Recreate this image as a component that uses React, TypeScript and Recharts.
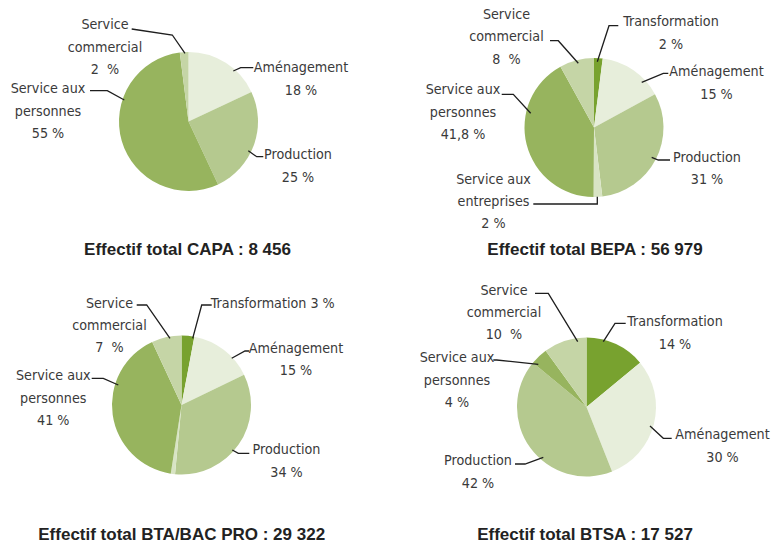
import React from 'react';
import { PieChart, Pie, Cell } from 'recharts';

// ---- Data ----
const capaCategories = ['Aménagement', 'Production', 'Service aux personnes', 'Service commercial'];
const capaValues = [18, 25, 55, 2];

const bepaCategories = ['Transformation', 'Aménagement', 'Production', 'Service aux entreprises', 'Service aux personnes', 'Service commercial'];
const bepaValues = [2, 15, 31, 2, 41.8, 8];

const btaCategories = ['Transformation', 'Aménagement', 'Production', 'Service aux entreprises', 'Service aux personnes', 'Service commercial'];
const btaValues = [3, 15, 34, 1, 41, 7];

const btsaCategories = ['Transformation', 'Aménagement', 'Production', 'Service aux personnes', 'Service commercial'];
const btsaValues = [14, 30, 42, 4, 10];

const titles = [
  'Effectif total CAPA : 8 456',
  'Effectif total BEPA : 56 979',
  'Effectif total BTA/BAC PRO : 29 322',
  'Effectif total BTSA : 17 527',
];

// ---- Styles ----
const COLORS: Record<string, string> = {
  'Transformation': '#78a22f',
  'Aménagement': '#e7eedb',
  'Production': '#b5c98f',
  'Service aux entreprises': '#d8e4c4',
  'Service aux personnes': '#97b45e',
  'Service commercial': '#c5d5a6',
};

const LABEL_FONT = '"DejaVu Sans Condensed", "Liberation Sans Narrow", "Arial Narrow", sans-serif';
const TITLE_FONT = '"Liberation Sans", Arial, sans-serif';
const LABEL_SIZE = 14.2;
const LINE_GAP = 22.3;
const RADIUS = 69.5;

type LabelLayout = { t: [number, number]; pts: [number, number][]; inline?: boolean; gap?: boolean } | null;

// label layouts relative to each pie center
const capaLayout: LabelLayout[] = [
  { t: [112.5, -54.5], pts: [[44.8, -50.5], [52.2, -53.8], [64.8, -53.8]] },
  { t: [109.5, 32.5], pts: [[59.8, 29.2], [68.2, 35.2], [74.8, 35.2]] },
  { t: [-140.5, -33.5], pts: [[-64.2, -21.5], [-81.2, -30.8], [-98.5, -30.8]] },
  { t: [-83.5, -97.5], pts: [[-3.5, -68.2], [-16.2, -86.5], [-56.8, -92.5]], gap: true },
];
const bepaLayout: LabelLayout[] = [
  { t: [77, -106.5], pts: [[3.3, -65.8], [15, -101.8], [24.3, -101.8]] },
  { t: [122.5, -56.5], pts: [[47.7, -45.2], [69.3, -54.2], [74.3, -54.2]] },
  { t: [113, 29], pts: [[57.7, 29.8], [64.3, 32.5], [76, 32.5]] },
  { t: [-100.5, 51], pts: [[3.3, 69.2], [3.3, 76.5], [-60.7, 76.5]] },
  { t: [-131, -38.5], pts: [[-63.3, -14.2], [-80.7, -33.2], [-92.3, -33.2]] },
  { t: [-87.5, -113.8], pts: [[-15.7, -64.2], [-35.7, -86.8], [-44, -86.8]], gap: true },
];
const btaLayout: LabelLayout[] = [
  { t: [91.3, -102.5], pts: [[11.2, -66.7], [20.2, -100], [30.2, -100]], inline: true },
  { t: [114.5, -57.5], pts: [[50.2, -46.7], [63.5, -54], [67.8, -54]] },
  { t: [105, 44], pts: [[50.8, 45], [56.8, 48.3], [67.8, 48.3]] },
  null,
  { t: [-128.2, -30], pts: [[-63.2, -20], [-78.2, -26.7], [-89.8, -26.7]] },
  { t: [-72, -102.5], pts: [[-11.5, -66.7], [-34.8, -100], [-44.8, -100]], gap: true },
];
const btsaLayout: LabelLayout[] = [
  { t: [88.5, -86], pts: [[16.8, -65.3], [28.5, -83.7], [39.2, -83.7]] },
  { t: [136, 27], pts: [[63.5, 19], [76.8, 31.3], [85.2, 31.3]] },
  { t: [-108.5, 53], pts: [[-43.2, 50.3], [-61.5, 57], [-71.5, 57]] },
  { t: [-129.5, -50], pts: [[-48.2, -42.7], [-89.8, -47], [-93.2, -47]] },
  { t: [-82.5, -117.5], pts: [[-8.8, -65.3], [-38.2, -113.7], [-51.5, -113.7]], gap: true },
];

const pies = [
  { names: capaCategories, values: capaValues, layout: capaLayout, center: [188.5, 121.5], title: titles[0], titlePos: [187.5, 249] },
  { names: bepaCategories, values: bepaValues, layout: bepaLayout, center: [594, 127.5], title: titles[1], titlePos: [595, 249] },
  { names: btaCategories, values: btaValues, layout: btaLayout, center: [181.5, 405], title: titles[2], titlePos: [181.7, 533.5] },
  { names: btsaCategories, values: btsaValues, layout: btsaLayout, center: [586.5, 407], title: titles[3], titlePos: [585, 533.5] },
];

function splitName(name: string): string[] {
  if (name === 'Service commercial') return ['Service', 'commercial'];
  if (name === 'Service aux personnes') return ['Service aux', 'personnes'];
  if (name === 'Service aux entreprises') return ['Service aux', 'entreprises'];
  return [name];
}

function fmt(v: number, gap?: boolean): string {
  return String(v).replace('.', ',') + (gap ? '\u00a0\u00a0%' : '\u00a0%');
}

function makeLabel(center: number[], layout: LabelLayout[], names: string[], values: number[]) {
  return (props: any) => {
    const i = props.index;
    const L = layout[i];
    if (!L) return <g key={`n-${i}`} />;
    const [cx, cy] = center;
    const pct = fmt(values[i], L.gap);
    const lines = L.inline ? [names[i] + '\u00a0' + pct] : [...splitName(names[i]), pct];
    const pts = L.pts.map(([x, y]) => `${cx + x},${cy + y}`).join(' ');
    const tx = cx + L.t[0];
    const ty = cy + L.t[1];
    return (
      <g key={`lbl-${i}`}>
        <polyline points={pts} fill="none" stroke="#1e1e1e" strokeWidth={1.3} />
        <text textAnchor="middle" fontFamily={LABEL_FONT} fontSize={LABEL_SIZE} fill="#3a3a3a">
          {lines.map((ln, k) => (
            <tspan key={k} x={tx} y={ty + k * LINE_GAP + 5.3}>{ln}</tspan>
          ))}
        </text>
      </g>
    );
  };
}

export default function App() {
  return (
    <div style={{ position: 'absolute', left: 0, top: 0, width: 771, height: 544, background: '#fff' }}>
      <PieChart width={771} height={544} margin={{ top: 0, right: 0, bottom: 0, left: 0 }}>
        {pies.map((p, pi) => (
          <Pie
            key={pi}
            data={p.names.map((n, i) => ({ name: n, value: p.values[i] }))}
            dataKey="value"
            nameKey="name"
            cx={p.center[0]}
            cy={p.center[1]}
            outerRadius={RADIUS}
            innerRadius={0}
            startAngle={90}
            endAngle={-270}
            stroke="none"
            isAnimationActive={false}
            labelLine={false}
            label={makeLabel(p.center, p.layout, p.names, p.values)}
          >
            {p.names.map((n, i) => (
              <Cell key={i} fill={COLORS[n]} stroke="none" />
            ))}
          </Pie>
        ))}
      </PieChart>
      {pies.map((p, pi) => (
        <div
          key={`t-${pi}`}
          style={{
            position: 'absolute',
            left: p.titlePos[0],
            top: p.titlePos[1],
            transform: 'translate(-50%, -50%)',
            whiteSpace: 'nowrap',
            fontFamily: TITLE_FONT,
            fontWeight: 700,
            fontSize: 17,
            color: '#222',
            lineHeight: 1,
          }}
        >
          {p.title}
        </div>
      ))}
    </div>
  );
}
